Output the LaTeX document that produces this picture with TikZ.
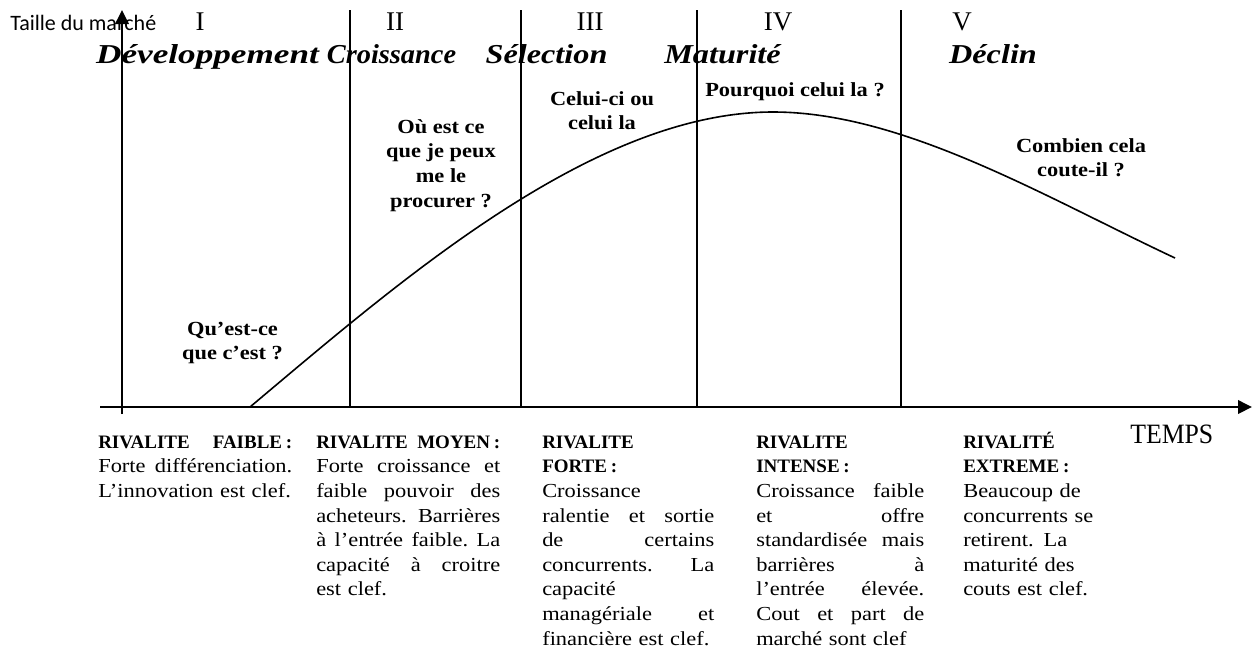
\documentclass[tikz,border=0pt]{standalone}
\usepackage{fontspec}
\usepackage{graphicx}
\setmainfont{Liberation Serif}
\newfontfamily\bodyf[FakeStretch=1.13]{Liberation Serif}
\newfontfamily\questf[FakeStretch=1.12]{Liberation Serif}
\newfontfamily\phasef[FakeStretch=1.18]{Liberation Serif}
\newfontfamily\tempsf[FakeStretch=0.92]{Liberation Serif}
\newfontfamily\labelf{Carlito}
\usetikzlibrary{arrows.meta}

% justified line of a given width: words are separated by \hfill
\newcommand\jl[2]{\leavevmode\hbox to #1{#2}}
% bold heading inside a column
\newcommand\hd{\rmfamily\bfseries\fontsize{14.25}{18.45}\selectfont}

\begin{document}
\begin{tikzpicture}[x=0.75pt,y=-0.75pt,
  axis/.style={line width=1.9pt},
  divider/.style={line width=1.4pt},
  lifecurve/.style={line width=1.2pt},
  roman/.style={anchor=base,inner sep=0,font=\rmfamily\fontsize{20.25}{24}\selectfont},
  phase/.style={anchor=base,inner sep=0,font=\phasef\bfseries\itshape\fontsize{20.5}{24}\selectfont},
  quest/.style={anchor=north,inner sep=0,align=center,font=\questf\bfseries\fontsize{15}{18.45}\selectfont},
  column/.style={anchor=north west,inner sep=0,align=left,font=\bodyf\fontsize{14.9}{18.45}\selectfont},
  tip/.style={-{Triangle[length=10.5pt,width=10pt]}}]
\useasboundingbox (0,0) rectangle (1252,651);

% axes
\coordinate (xs) at (100,407);
\coordinate (xe) at (1252,407);
\coordinate (ys) at (122,414);
\coordinate (ye) at (122,10);
\draw[axis,tip] (xs) -- (xe);
\draw[axis,tip] (ys) -- (ye);

% phase dividers
\foreach \i/\xx in {1/350,2/521,3/697,4/901}{
  \coordinate (d\i t) at (\xx,10);
  \coordinate (d\i b) at (\xx,407);
  \draw[divider] (d\i t) -- (d\i b);
}

% market size curve: rise to the peak, then decline
\coordinate (cs) at (250,407);
\coordinate (cp) at (773,112);
\coordinate (ce) at (1175,258);
\draw[lifecurve] (cs) .. controls (400,281) and (593,112) .. (cp)
                      .. controls (903,112) and (1045,197) .. (ce);

% axis labels
\node[anchor=base west,inner sep=0,font=\labelf\fontsize{16.5}{20}\selectfont] (ylab) at (10,30) {Taille du marché};
\node[anchor=base west,inner sep=0,font=\tempsf\fontsize{21}{24}\selectfont] (xlab) at (1130,443) {TEMPS};

% phase numbers
\node[roman] (r1) at (200,30) {I};
\node[roman] (r2) at (395,30) {II};
\node[roman] (r3) at (590,30) {III};
\node[roman] (r4) at (778,30) {IV};
\node[roman] (r5) at (962,30) {V};

% phase names
\node[phase] (p1) at (207.5,63) {\scalebox{1.09}[1]{Développement}};
\node[phase] (p2) at (391.5,63) {\scalebox{0.88}[1]{Croissance}};
\node[phase] (p3) at (546.5,63) {Sélection};
\node[phase] (p4) at (722.5,63) {Maturité};
\node[phase] (p5) at (993,63) {Déclin};

% customer questions
\node[quest] (q1) at (232.5,317.8) {\strut Qu’est-ce\\que c’est ?};
\node[quest] (q2) at (441,115.8) {\strut Où est ce\\que je peux\\me le\\procurer ?};
\node[quest] (q3) at (602,87.8) {\strut Celui-ci ou\\celui la};
\node[quest,anchor=base] (q4) at (795,96) {Pourquoi celui la ?};
\node[quest] (q5) at (1081,134.8) {\strut Combien cela\\coute-il ?};

% rivalry descriptions
\node[column,text width=145.5pt] (c1) at (98,430.8) {%
\strut\jl{145.5pt}{\hd RIVALITE\hfill FAIBLE\hspace{.2em}:}\\
\jl{145.5pt}{Forte\hfill différenciation.}\\
L’innovation est clef.};

\node[column,text width=138pt] (c2) at (316,430.8) {%
\strut\jl{138pt}{\hd RIVALITE\hfill MOYEN\hspace{.2em}:}\\
\jl{138pt}{Forte\hfill croissance\hfill et}\\
\jl{138pt}{faible\hfill pouvoir\hfill des}\\
\jl{138pt}{acheteurs.\hfill Barrières}\\
\jl{138pt}{à\hfill l’entrée\hfill faible.\hfill La}\\
\jl{138pt}{capacité\hfill à\hfill croitre}\\
est clef.};

\node[column,text width=129pt] (c3) at (542,430.8) {%
\strut{\hd RIVALITE}\\
{\hd FORTE\hspace{.2em}:}\\
Croissance\\
\jl{129pt}{ralentie\hfill et\hfill sortie}\\
\jl{129pt}{de\hfill certains}\\
\jl{129pt}{concurrents.\hfill La}\\
capacité\\
\jl{129pt}{managériale\hfill et}\\
financière est clef.};

\node[column,text width=126pt] (c4) at (756,430.8) {%
\strut{\hd RIVALITE}\\
{\hd INTENSE\hspace{.2em}:}\\
\jl{126pt}{Croissance\hfill faible}\\
\jl{126pt}{et\hfill offre}\\
\jl{126pt}{standardisée\hfill mais}\\
\jl{126pt}{barrières\hfill à}\\
\jl{126pt}{l’entrée\hfill élevée.}\\
\jl{126pt}{Cout\hfill et\hfill part\hfill de}\\
marché sont clef};

\node[column,text width=110pt] (c5) at (963,430.8) {%
\strut{\hd RIVALITÉ}\\
{\hd EXTREME\hspace{.2em}:}\\
Beaucoup de\\
concurrents se\\
retirent. La\\
maturité des\\
couts est clef.};
\end{tikzpicture}
\end{document}
